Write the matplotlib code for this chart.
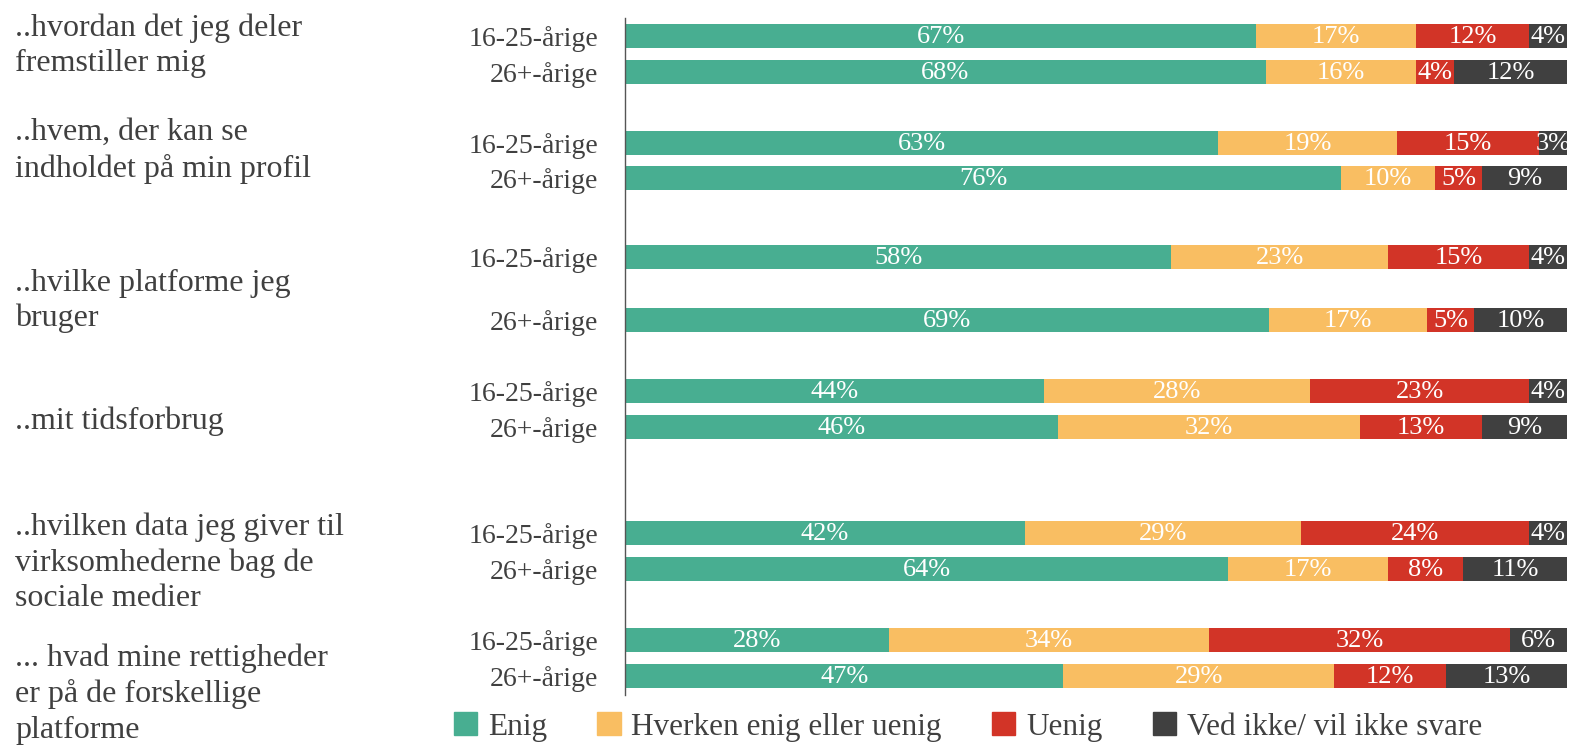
import matplotlib.pyplot as plt
from matplotlib.patches import Patch
import numpy as np

plt.rcParams['font.family'] = ['Liberation Serif', 'DejaVu Serif']

questions = ['..hvordan det jeg deler\nfremstiller mig',
             '..hvem, der kan se\nindholdet på min profil',
             '..hvilke platforme jeg\nbruger',
             '..mit tidsforbrug',
             '..hvilken data jeg giver til\nvirksomhederne bag de\nsociale medier',
             '... hvad mine rettigheder\ner på de forskellige\nplatforme']
ages = ['16-25-årige', '26+-årige']
categories = ['Enig', 'Hverken enig eller uenig', 'Uenig', 'Ved ikke/ vil ikke svare']

# one row per bar: question x age group, top to bottom
enig = [67, 68, 63, 76, 58, 69, 44, 46, 42, 64, 28, 47]
hverken = [17, 16, 19, 10, 23, 17, 28, 32, 29, 17, 34, 29]
uenig = [12, 4, 15, 5, 15, 5, 23, 13, 24, 8, 32, 12]
ved_ikke = [4, 12, 3, 9, 4, 10, 4, 9, 4, 11, 6, 13]

colors = ['#48ae91', '#f9be62', '#d23427', '#404040']
txt = '#404040'

# layout (pixel rows of the bars, question label centres)
bar_rows = [36, 72, 143, 178, 257, 320, 391, 427, 533, 569, 640, 676]
label_rows = [46, 151, 301, 421, 563, 694]

W, H = 1583, 748
fig = plt.figure(figsize=(W / 100, H / 100), dpi=100)
ax = fig.add_axes([625 / W, 1 - 695 / H, (1567 - 625) / W, (695 - 18) / H])

vals = np.array([enig, hverken, uenig, ved_ikke], dtype=float)
widths = vals / vals.sum(axis=0) * 100
left = np.zeros(len(enig))
for i in range(4):
    ax.barh(bar_rows, widths[i], left=left, height=24, color=colors[i])
    for y, l, w, v in zip(bar_rows, left, widths[i], vals[i]):
        ax.text(l + w / 2, y + 1, f'{int(v)}%', ha='center', va='center',
                color='white', fontsize=19)
    left += widths[i]

ax.set_xlim(0, 100)
ax.set_ylim(695, 18)
ax.set_yticks(bar_rows)
ax.set_yticklabels(ages * len(questions), fontsize=20, color=txt)
ax.tick_params(axis='y', length=0, pad=19)
ax.set_xticks([])
for s in ['top', 'right', 'bottom']:
    ax.spines[s].set_visible(False)
ax.spines['left'].set_color('#555555')
ax.spines['left'].set_linewidth(1)

for q, r in zip(questions, label_rows):
    fig.text(15 / W, 1 - r / H, q, ha='left', va='center', fontsize=23,
             color=txt, linespacing=1.28)

handles = [Patch(color=c) for c in colors]
fig.legend(handles, categories, loc='center', bbox_to_anchor=(968 / W, 1 - 727 / H),
           ncol=4, frameon=False, fontsize=22.5, handlelength=0.75, handleheight=0.75,
           handletextpad=0.35, columnspacing=1.6, labelcolor=txt)

fig.savefig('out.png', dpi=100)
